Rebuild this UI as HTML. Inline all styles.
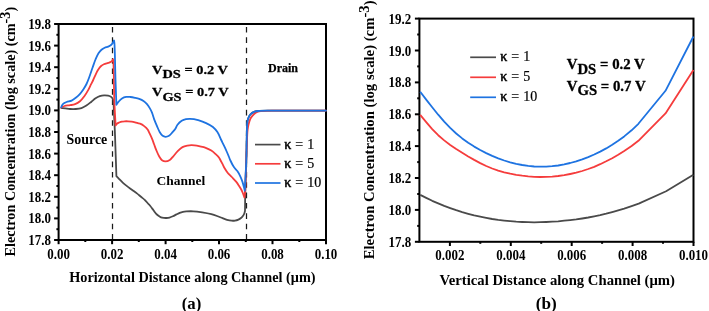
<!DOCTYPE html>
<html><head><meta charset="utf-8"><style>
html,body{margin:0;padding:0;background:#fff;}
body{width:709px;height:311px;overflow:hidden;}
svg{display:block;filter:blur(0.3px);}
text{fill:#000;}
</style></head><body>
<svg width="709" height="311" viewBox="0 0 709 311">
<rect x="58.6" y="24.0" width="267.4" height="216.0" fill="none" stroke="#000" stroke-width="2"/>
<line x1="54.1" y1="240.0" x2="58.6" y2="240.0" stroke="#000" stroke-width="2"/>
<text transform="translate(51.0,245.0) scale(0.94,1)" font-family="Liberation Serif" font-weight="bold" font-size="13.8" text-anchor="end">17.8</text>
<line x1="56.4" y1="229.2" x2="58.6" y2="229.2" stroke="#000" stroke-width="2"/>
<line x1="54.1" y1="218.4" x2="58.6" y2="218.4" stroke="#000" stroke-width="2"/>
<text transform="translate(51.0,223.4) scale(0.94,1)" font-family="Liberation Serif" font-weight="bold" font-size="13.8" text-anchor="end">18.0</text>
<line x1="56.4" y1="207.6" x2="58.6" y2="207.6" stroke="#000" stroke-width="2"/>
<line x1="54.1" y1="196.8" x2="58.6" y2="196.8" stroke="#000" stroke-width="2"/>
<text transform="translate(51.0,201.8) scale(0.94,1)" font-family="Liberation Serif" font-weight="bold" font-size="13.8" text-anchor="end">18.2</text>
<line x1="56.4" y1="186.0" x2="58.6" y2="186.0" stroke="#000" stroke-width="2"/>
<line x1="54.1" y1="175.2" x2="58.6" y2="175.2" stroke="#000" stroke-width="2"/>
<text transform="translate(51.0,180.2) scale(0.94,1)" font-family="Liberation Serif" font-weight="bold" font-size="13.8" text-anchor="end">18.4</text>
<line x1="56.4" y1="164.4" x2="58.6" y2="164.4" stroke="#000" stroke-width="2"/>
<line x1="54.1" y1="153.6" x2="58.6" y2="153.6" stroke="#000" stroke-width="2"/>
<text transform="translate(51.0,158.6) scale(0.94,1)" font-family="Liberation Serif" font-weight="bold" font-size="13.8" text-anchor="end">18.6</text>
<line x1="56.4" y1="142.8" x2="58.6" y2="142.8" stroke="#000" stroke-width="2"/>
<line x1="54.1" y1="132.0" x2="58.6" y2="132.0" stroke="#000" stroke-width="2"/>
<text transform="translate(51.0,137.0) scale(0.94,1)" font-family="Liberation Serif" font-weight="bold" font-size="13.8" text-anchor="end">18.8</text>
<line x1="56.4" y1="121.2" x2="58.6" y2="121.2" stroke="#000" stroke-width="2"/>
<line x1="54.1" y1="110.4" x2="58.6" y2="110.4" stroke="#000" stroke-width="2"/>
<text transform="translate(51.0,115.4) scale(0.94,1)" font-family="Liberation Serif" font-weight="bold" font-size="13.8" text-anchor="end">19.0</text>
<line x1="56.4" y1="99.6" x2="58.6" y2="99.6" stroke="#000" stroke-width="2"/>
<line x1="54.1" y1="88.8" x2="58.6" y2="88.8" stroke="#000" stroke-width="2"/>
<text transform="translate(51.0,93.8) scale(0.94,1)" font-family="Liberation Serif" font-weight="bold" font-size="13.8" text-anchor="end">19.2</text>
<line x1="56.4" y1="78.0" x2="58.6" y2="78.0" stroke="#000" stroke-width="2"/>
<line x1="54.1" y1="67.2" x2="58.6" y2="67.2" stroke="#000" stroke-width="2"/>
<text transform="translate(51.0,72.2) scale(0.94,1)" font-family="Liberation Serif" font-weight="bold" font-size="13.8" text-anchor="end">19.4</text>
<line x1="56.4" y1="56.4" x2="58.6" y2="56.4" stroke="#000" stroke-width="2"/>
<line x1="54.1" y1="45.6" x2="58.6" y2="45.6" stroke="#000" stroke-width="2"/>
<text transform="translate(51.0,50.6) scale(0.94,1)" font-family="Liberation Serif" font-weight="bold" font-size="13.8" text-anchor="end">19.6</text>
<line x1="56.4" y1="34.8" x2="58.6" y2="34.8" stroke="#000" stroke-width="2"/>
<line x1="54.1" y1="24.0" x2="58.6" y2="24.0" stroke="#000" stroke-width="2"/>
<text transform="translate(51.0,29.0) scale(0.94,1)" font-family="Liberation Serif" font-weight="bold" font-size="13.8" text-anchor="end">19.8</text>
<line x1="58.6" y1="240.0" x2="58.6" y2="244.2" stroke="#000" stroke-width="2"/>
<text transform="translate(58.6,258.6) scale(0.94,1)" font-family="Liberation Serif" font-weight="bold" font-size="13.8" text-anchor="middle">0.00</text>
<line x1="85.3" y1="240.0" x2="85.3" y2="242.0" stroke="#000" stroke-width="2"/>
<line x1="112.1" y1="240.0" x2="112.1" y2="244.2" stroke="#000" stroke-width="2"/>
<text transform="translate(112.1,258.6) scale(0.94,1)" font-family="Liberation Serif" font-weight="bold" font-size="13.8" text-anchor="middle">0.02</text>
<line x1="138.8" y1="240.0" x2="138.8" y2="242.0" stroke="#000" stroke-width="2"/>
<line x1="165.6" y1="240.0" x2="165.6" y2="244.2" stroke="#000" stroke-width="2"/>
<text transform="translate(165.6,258.6) scale(0.94,1)" font-family="Liberation Serif" font-weight="bold" font-size="13.8" text-anchor="middle">0.04</text>
<line x1="192.3" y1="240.0" x2="192.3" y2="242.0" stroke="#000" stroke-width="2"/>
<line x1="219.0" y1="240.0" x2="219.0" y2="244.2" stroke="#000" stroke-width="2"/>
<text transform="translate(219.0,258.6) scale(0.94,1)" font-family="Liberation Serif" font-weight="bold" font-size="13.8" text-anchor="middle">0.06</text>
<line x1="245.8" y1="240.0" x2="245.8" y2="242.0" stroke="#000" stroke-width="2"/>
<line x1="272.5" y1="240.0" x2="272.5" y2="244.2" stroke="#000" stroke-width="2"/>
<text transform="translate(272.5,258.6) scale(0.94,1)" font-family="Liberation Serif" font-weight="bold" font-size="13.8" text-anchor="middle">0.08</text>
<line x1="299.3" y1="240.0" x2="299.3" y2="242.0" stroke="#000" stroke-width="2"/>
<line x1="326.0" y1="240.0" x2="326.0" y2="244.2" stroke="#000" stroke-width="2"/>
<text transform="translate(326.0,258.6) scale(0.94,1)" font-family="Liberation Serif" font-weight="bold" font-size="13.8" text-anchor="middle">0.10</text>
<line x1="112.5" y1="27.0" x2="112.5" y2="239" stroke="#1a1a1a" stroke-width="1.25" stroke-dasharray="5.6 4.75"/>
<line x1="246.5" y1="27.0" x2="246.5" y2="239" stroke="#1a1a1a" stroke-width="1.25" stroke-dasharray="5.6 4.75"/>
<path d="M61.30,108.00 C62.60,108.13 63.83,108.25 65.20,108.40 C66.74,108.57 68.40,108.90 70.10,109.00 C71.92,109.11 73.91,109.15 75.80,109.00 C77.71,108.85 79.71,108.68 81.50,108.10 C83.24,107.53 84.81,106.62 86.40,105.60 C88.11,104.51 89.82,102.98 91.40,101.70 C92.87,100.51 94.14,99.15 95.60,98.20 C96.95,97.32 98.36,96.58 99.80,96.10 C101.19,95.63 102.69,95.38 104.10,95.30 C105.45,95.23 106.95,95.35 108.10,95.60 C109.02,95.80 109.80,96.08 110.50,96.50 C111.16,96.89 111.73,97.40 112.20,98.00 C112.71,98.65 113.00,99.53 113.40,100.30 L113.40,100.30 C113.53,102.87 113.64,104.65 113.80,108.00 C114.10,114.27 114.61,125.05 115.00,135.00 C115.48,147.29 115.93,162.47 116.40,176.20 L116.40,176.20 C117.33,177.17 118.21,178.09 119.20,179.10 C120.30,180.22 121.44,181.46 122.70,182.60 C124.03,183.80 125.50,184.94 127.00,186.10 C128.57,187.31 130.26,188.49 131.90,189.70 C133.56,190.92 135.33,192.17 136.90,193.40 C138.35,194.54 139.67,195.71 141.00,196.80 C142.26,197.83 143.54,198.70 144.70,199.80 C145.88,200.93 147.00,202.39 148.00,203.50 C148.83,204.42 149.50,205.03 150.30,206.00 C151.31,207.22 152.50,208.96 153.50,210.30 C154.38,211.47 155.12,212.65 156.00,213.60 C156.79,214.45 157.64,215.17 158.50,215.80 C159.31,216.39 160.11,216.95 161.00,217.30 C161.88,217.65 162.87,217.78 163.80,217.90 C164.70,218.01 165.58,218.04 166.50,218.00 C167.48,217.95 168.48,217.86 169.50,217.60 C170.61,217.32 171.77,216.81 172.90,216.30 C174.10,215.76 175.33,215.00 176.50,214.40 C177.59,213.84 178.61,213.24 179.70,212.80 C180.77,212.37 181.88,212.03 183.00,211.80 C184.11,211.57 185.07,211.49 186.40,211.40 C188.28,211.28 190.78,211.17 193.20,211.30 C195.99,211.45 199.20,211.92 202.20,212.40 C205.23,212.88 208.64,213.52 211.30,214.20 C213.44,214.75 215.12,215.33 217.00,216.00 C218.89,216.67 220.84,217.54 222.60,218.20 C224.15,218.79 225.50,219.38 227.00,219.80 C228.50,220.22 230.18,220.58 231.60,220.70 C232.81,220.80 233.88,220.78 235.00,220.60 C236.15,220.42 237.37,220.06 238.40,219.60 C239.36,219.17 240.24,218.62 241.00,218.00 C241.73,217.41 242.35,216.74 242.90,216.00 C243.46,215.24 243.95,214.35 244.30,213.50 C244.64,212.69 244.77,211.83 245.00,211.00 L245.00,211.00 C245.10,204.00 245.12,197.62 245.30,190.00 C245.52,180.89 246.04,169.44 246.30,160.00 C246.53,151.55 246.62,142.63 246.80,136.00 C246.93,131.31 246.90,127.13 247.20,124.00 C247.40,121.97 247.48,120.58 248.00,119.00 C248.52,117.42 249.21,115.71 250.30,114.50 C251.40,113.28 253.04,112.30 254.60,111.70 C256.17,111.10 257.70,111.09 259.70,110.90 C262.53,110.64 265.19,110.67 270.00,110.60 C281.20,110.44 307.33,110.60 326.00,110.60" fill="none" stroke="#4a4a4a" stroke-width="1.8" stroke-linejoin="round" stroke-linecap="round"/>
<path d="M61.30,107.70 C62.37,107.13 63.24,106.41 64.50,106.00 C66.07,105.49 68.29,105.53 70.10,105.20 C71.82,104.89 73.49,104.73 75.10,104.10 C76.80,103.43 78.49,102.46 80.00,101.20 C81.65,99.82 83.13,97.86 84.50,96.00 C85.90,94.10 87.17,91.93 88.30,89.90 C89.36,87.99 90.23,85.95 91.10,84.20 C91.85,82.69 92.45,81.57 93.20,80.00 C94.13,78.06 95.26,75.30 96.20,73.40 C96.94,71.92 97.49,70.73 98.30,69.50 C99.12,68.26 100.09,66.91 101.10,66.00 C101.97,65.21 102.83,64.71 103.90,64.20 C105.15,63.61 106.92,63.24 108.20,62.80 C109.24,62.45 110.28,62.26 111.00,61.80 C111.57,61.44 111.95,60.95 112.30,60.50 C112.60,60.11 112.77,59.70 113.00,59.30 L113.00,59.30 C113.13,60.20 113.28,60.57 113.40,62.00 C113.86,67.33 113.87,88.59 114.30,100.00 C114.65,109.35 115.17,117.00 115.60,125.50 L115.60,125.50 C116.13,124.83 116.57,124.01 117.20,123.50 C117.79,123.03 118.46,122.80 119.20,122.50 C120.04,122.16 121.06,121.80 122.00,121.60 C122.92,121.40 123.83,121.35 124.80,121.30 C125.83,121.24 126.90,121.25 128.00,121.30 C129.17,121.35 130.42,121.43 131.60,121.60 C132.75,121.77 133.87,122.02 135.00,122.30 C136.14,122.58 137.48,123.05 138.40,123.30 C139.03,123.47 139.36,123.44 140.00,123.70 C141.09,124.14 142.91,125.12 144.20,126.10 C145.52,127.11 146.94,128.49 147.80,129.70 C148.48,130.66 148.66,131.46 149.20,132.60 C149.98,134.24 151.17,136.61 152.00,138.60 C152.79,140.51 153.39,142.38 154.10,144.30 C154.82,146.25 155.48,148.23 156.30,150.20 C157.14,152.23 158.06,154.54 159.10,156.30 C159.99,157.80 160.83,159.37 162.00,160.20 C163.01,160.92 164.27,161.31 165.50,161.30 C166.86,161.29 168.53,160.69 169.80,159.90 C171.14,159.06 172.10,157.61 173.30,156.30 C174.66,154.81 175.98,152.93 177.50,151.40 C179.04,149.86 180.73,148.07 182.50,147.10 C184.06,146.24 185.83,145.91 187.40,145.60 C188.79,145.32 190.15,145.22 191.40,145.20 C192.50,145.18 193.32,145.26 194.50,145.40 C196.08,145.59 198.16,146.01 200.00,146.40 C201.89,146.80 203.85,147.12 205.70,147.80 C207.62,148.50 209.61,149.51 211.30,150.60 C212.89,151.63 214.27,152.88 215.60,154.10 C216.86,155.26 218.23,156.51 219.10,157.70 C219.79,158.64 220.06,159.50 220.60,160.50 C221.22,161.65 221.92,162.92 222.60,164.20 C223.32,165.58 223.98,167.10 224.80,168.50 C225.64,169.93 226.50,171.34 227.60,172.70 C228.80,174.18 230.40,175.53 231.80,177.00 C233.23,178.50 234.85,180.03 236.10,181.60 C237.25,183.04 238.18,184.56 239.10,186.00 C239.97,187.35 240.83,188.69 241.50,190.00 C242.11,191.18 242.53,192.29 243.00,193.50 C243.50,194.78 243.93,196.17 244.40,197.50 L244.40,197.50 C244.67,195.20 244.98,193.52 245.20,190.60 C245.58,185.57 245.65,177.20 245.90,170.00 C246.18,162.07 246.48,152.27 246.80,145.00 C247.05,139.36 247.17,133.82 247.60,130.00 C247.87,127.61 248.12,126.11 248.60,124.20 C249.08,122.27 249.71,120.03 250.50,118.50 C251.11,117.32 251.80,116.50 252.60,115.60 C253.43,114.67 254.34,113.70 255.40,113.00 C256.47,112.29 257.61,111.77 259.00,111.40 C260.71,110.95 262.74,110.94 265.00,110.80 C267.91,110.63 270.38,110.65 275.00,110.60 C285.43,110.50 309.00,110.60 326.00,110.60" fill="none" stroke="#f53c3c" stroke-width="1.8" stroke-linejoin="round" stroke-linecap="round"/>
<path d="M61.30,107.20 C61.53,106.63 61.71,106.05 62.00,105.50 C62.30,104.92 62.54,104.31 63.10,103.80 C63.88,103.09 65.30,102.51 66.60,102.00 C68.09,101.41 70.06,101.31 71.60,100.60 C73.12,99.90 74.47,98.84 75.80,97.80 C77.14,96.75 78.39,95.62 79.60,94.30 C80.91,92.87 82.16,91.19 83.30,89.50 C84.47,87.76 85.52,86.01 86.50,84.00 C87.61,81.73 88.52,79.13 89.50,76.50 C90.56,73.65 91.57,70.41 92.60,67.50 C93.57,64.75 94.46,61.97 95.50,59.50 C96.44,57.28 97.38,55.01 98.50,53.30 C99.42,51.90 100.41,50.74 101.50,49.80 C102.49,48.95 103.58,48.33 104.70,47.80 C105.81,47.27 107.12,47.09 108.20,46.60 C109.21,46.14 110.24,45.65 111.00,45.00 C111.67,44.42 112.11,43.73 112.60,43.00 C113.12,42.23 113.53,41.33 114.00,40.50 L114.00,40.50 C114.13,41.33 114.27,41.67 114.40,43.00 C114.88,48.08 115.13,68.90 115.50,80.00 C115.80,89.09 116.10,96.53 116.40,104.80 L116.40,104.80 C117.13,103.77 117.73,102.71 118.60,101.70 C119.57,100.57 120.71,99.20 122.00,98.40 C123.25,97.62 124.78,97.13 126.20,96.90 C127.58,96.68 128.97,96.86 130.40,97.00 C131.90,97.15 133.51,97.48 135.00,97.80 C136.44,98.11 137.82,98.39 139.20,98.90 C140.65,99.44 142.20,100.11 143.50,101.00 C144.80,101.88 145.95,102.99 147.00,104.20 C148.09,105.45 149.06,106.96 149.90,108.40 C150.72,109.80 151.35,111.10 152.00,112.70 C152.77,114.60 153.30,116.93 154.10,119.10 C154.95,121.40 156.02,123.86 157.00,126.10 C157.92,128.21 158.76,130.48 159.80,132.20 C160.66,133.62 161.53,135.04 162.60,135.80 C163.48,136.43 164.48,136.77 165.50,136.80 C166.61,136.83 167.91,136.45 169.00,135.80 C170.28,135.04 171.41,133.41 172.50,132.20 C173.54,131.05 174.57,129.95 175.40,128.70 C176.23,127.45 176.54,125.95 177.50,124.70 C178.58,123.29 180.20,121.75 181.70,120.80 C183.05,119.95 184.57,119.43 186.00,119.10 C187.33,118.79 188.67,118.78 190.00,118.80 C191.33,118.82 192.66,118.97 194.00,119.20 C195.39,119.43 196.60,119.72 198.20,120.20 C200.44,120.87 203.61,121.94 206.10,123.10 C208.50,124.22 210.97,125.43 212.90,127.00 C214.69,128.46 216.08,130.11 217.40,132.10 C218.90,134.36 220.03,137.58 221.20,140.00 C222.20,142.06 223.07,143.75 224.00,145.70 C224.97,147.74 226.05,150.07 226.90,152.00 C227.61,153.62 228.20,155.04 228.80,156.50 C229.36,157.87 229.71,159.02 230.40,160.50 C231.30,162.45 232.61,165.21 233.90,167.10 C235.01,168.73 236.44,169.78 237.50,171.30 C238.58,172.84 239.48,174.58 240.30,176.30 C241.12,178.01 241.80,179.81 242.40,181.60 C243.00,183.38 243.48,185.35 243.90,187.00 C244.25,188.37 244.50,189.53 244.80,190.80 L244.80,190.80 C244.97,187.60 245.11,185.03 245.30,181.20 C245.58,175.52 246.05,167.29 246.30,160.00 C246.56,152.25 246.62,142.63 246.80,136.00 C246.93,131.31 246.90,127.13 247.20,124.00 C247.40,121.97 247.48,120.58 248.00,119.00 C248.52,117.42 249.21,115.71 250.30,114.50 C251.40,113.28 253.04,112.30 254.60,111.70 C256.17,111.10 257.70,111.09 259.70,110.90 C262.53,110.64 265.19,110.67 270.00,110.60 C281.20,110.44 307.33,110.60 326.00,110.60" fill="none" stroke="#1e73e1" stroke-width="1.8" stroke-linejoin="round" stroke-linecap="round"/>
<text x="66.6" y="143.6" font-family="Liberation Serif" font-weight="bold" font-size="13.9">Source</text>
<text x="156.5" y="184.5" font-family="Liberation Serif" font-weight="bold" font-size="13.5">Channel</text>
<text x="268" y="71.5" font-family="Liberation Serif" font-weight="bold" font-size="12" stroke="#000" stroke-width="0.25">Drain</text>
<text transform="translate(152,73.9) scale(1,0.93)" font-family="Liberation Serif" font-weight="bold" font-size="14.4" stroke="#000" stroke-width="0.3">V<tspan dy="4.6">DS</tspan><tspan dy="-4.6"> = 0.2 V</tspan></text>
<text transform="translate(152,96.4) scale(1,0.93)" font-family="Liberation Serif" font-weight="bold" font-size="14.4" stroke="#000" stroke-width="0.3">V<tspan dy="4.6">GS</tspan><tspan dy="-4.6"> = 0.7 V</tspan></text>
<line x1="255" y1="144.6" x2="280.5" y2="144.6" stroke="#4a4a4a" stroke-width="1.7"/>
<text x="284.2" y="148.6" font-family="Liberation Serif" font-size="14" word-spacing="0.5" stroke="#000" stroke-width="0.2"><tspan stroke-width="0.5">κ</tspan> = 1</text>
<line x1="255" y1="163.8" x2="280.5" y2="163.8" stroke="#f53c3c" stroke-width="1.7"/>
<text x="284.2" y="167.8" font-family="Liberation Serif" font-size="14" word-spacing="0.5" stroke="#000" stroke-width="0.2"><tspan stroke-width="0.5">κ</tspan> = 5</text>
<line x1="255" y1="183.0" x2="280.5" y2="183.0" stroke="#1e73e1" stroke-width="1.7"/>
<text x="284.2" y="187.0" font-family="Liberation Serif" font-size="14" word-spacing="0.5" stroke="#000" stroke-width="0.2"><tspan stroke-width="0.5">κ</tspan> = 10</text>
<text x="69.2" y="282.0" font-family="Liberation Serif" font-weight="bold" font-size="14.25">Horizontal Distance along Channel (μm)</text>
<text x="191.5" y="308.8" font-family="Liberation Serif" font-weight="bold" font-size="16.8" text-anchor="middle">(a)</text>
<text transform="translate(14.6,256.4) rotate(-90)" font-family="Liberation Serif" font-weight="bold" font-size="14.2">Electron Concentration (log scale) (cm<tspan dy="-4.6">-3</tspan><tspan dy="4.6">)</tspan></text>
<rect x="419.4" y="18.6" width="274.1" height="223.20000000000002" fill="none" stroke="#000" stroke-width="2"/>
<line x1="414.9" y1="241.8" x2="419.4" y2="241.8" stroke="#000" stroke-width="2"/>
<text transform="translate(411.2,246.8) scale(0.94,1)" font-family="Liberation Serif" font-weight="bold" font-size="13.8" text-anchor="end">17.8</text>
<line x1="417.2" y1="225.9" x2="419.4" y2="225.9" stroke="#000" stroke-width="2"/>
<line x1="414.9" y1="209.9" x2="419.4" y2="209.9" stroke="#000" stroke-width="2"/>
<text transform="translate(411.2,214.9) scale(0.94,1)" font-family="Liberation Serif" font-weight="bold" font-size="13.8" text-anchor="end">18.0</text>
<line x1="417.2" y1="194.0" x2="419.4" y2="194.0" stroke="#000" stroke-width="2"/>
<line x1="414.9" y1="178.0" x2="419.4" y2="178.0" stroke="#000" stroke-width="2"/>
<text transform="translate(411.2,183.0) scale(0.94,1)" font-family="Liberation Serif" font-weight="bold" font-size="13.8" text-anchor="end">18.2</text>
<line x1="417.2" y1="162.1" x2="419.4" y2="162.1" stroke="#000" stroke-width="2"/>
<line x1="414.9" y1="146.1" x2="419.4" y2="146.1" stroke="#000" stroke-width="2"/>
<text transform="translate(411.2,151.1) scale(0.94,1)" font-family="Liberation Serif" font-weight="bold" font-size="13.8" text-anchor="end">18.4</text>
<line x1="417.2" y1="130.2" x2="419.4" y2="130.2" stroke="#000" stroke-width="2"/>
<line x1="414.9" y1="114.3" x2="419.4" y2="114.3" stroke="#000" stroke-width="2"/>
<text transform="translate(411.2,119.3) scale(0.94,1)" font-family="Liberation Serif" font-weight="bold" font-size="13.8" text-anchor="end">18.6</text>
<line x1="417.2" y1="98.3" x2="419.4" y2="98.3" stroke="#000" stroke-width="2"/>
<line x1="414.9" y1="82.4" x2="419.4" y2="82.4" stroke="#000" stroke-width="2"/>
<text transform="translate(411.2,87.4) scale(0.94,1)" font-family="Liberation Serif" font-weight="bold" font-size="13.8" text-anchor="end">18.8</text>
<line x1="417.2" y1="66.4" x2="419.4" y2="66.4" stroke="#000" stroke-width="2"/>
<line x1="414.9" y1="50.5" x2="419.4" y2="50.5" stroke="#000" stroke-width="2"/>
<text transform="translate(411.2,55.5) scale(0.94,1)" font-family="Liberation Serif" font-weight="bold" font-size="13.8" text-anchor="end">19.0</text>
<line x1="417.2" y1="34.5" x2="419.4" y2="34.5" stroke="#000" stroke-width="2"/>
<line x1="414.9" y1="18.6" x2="419.4" y2="18.6" stroke="#000" stroke-width="2"/>
<text transform="translate(411.2,23.6) scale(0.94,1)" font-family="Liberation Serif" font-weight="bold" font-size="13.8" text-anchor="end">19.2</text>
<line x1="449.9" y1="241.8" x2="449.9" y2="246.0" stroke="#000" stroke-width="2"/>
<text transform="translate(449.9,260.0) scale(0.94,1)" font-family="Liberation Serif" font-weight="bold" font-size="13.8" text-anchor="middle">0.002</text>
<line x1="480.3" y1="241.8" x2="480.3" y2="243.8" stroke="#000" stroke-width="2"/>
<line x1="510.8" y1="241.8" x2="510.8" y2="246.0" stroke="#000" stroke-width="2"/>
<text transform="translate(510.8,260.0) scale(0.94,1)" font-family="Liberation Serif" font-weight="bold" font-size="13.8" text-anchor="middle">0.004</text>
<line x1="541.2" y1="241.8" x2="541.2" y2="243.8" stroke="#000" stroke-width="2"/>
<line x1="571.7" y1="241.8" x2="571.7" y2="246.0" stroke="#000" stroke-width="2"/>
<text transform="translate(571.7,260.0) scale(0.94,1)" font-family="Liberation Serif" font-weight="bold" font-size="13.8" text-anchor="middle">0.006</text>
<line x1="602.1" y1="241.8" x2="602.1" y2="243.8" stroke="#000" stroke-width="2"/>
<line x1="632.6" y1="241.8" x2="632.6" y2="246.0" stroke="#000" stroke-width="2"/>
<text transform="translate(632.6,260.0) scale(0.94,1)" font-family="Liberation Serif" font-weight="bold" font-size="13.8" text-anchor="middle">0.008</text>
<line x1="663.0" y1="241.8" x2="663.0" y2="243.8" stroke="#000" stroke-width="2"/>
<line x1="693.5" y1="241.8" x2="693.5" y2="246.0" stroke="#000" stroke-width="2"/>
<text transform="translate(693.5,260.0) scale(0.94,1)" font-family="Liberation Serif" font-weight="bold" font-size="13.8" text-anchor="middle">0.010</text>
<path d="M420.2,194.9 L426.2,197.9 L432.2,200.8 L438.2,203.4 L444.2,205.9 L450.2,208.1 L456.2,210.2 L462.2,212.1 L468.2,213.8 L474.2,215.4 L480.2,216.7 L486.2,217.9 L492.2,219.0 L498.2,219.9 L504.2,220.6 L510.2,221.2 L516.2,221.7 L522.2,222.0 L528.2,222.2 L534.2,222.3 L540.2,222.2 L546.2,222.0 L552.2,221.7 L558.2,221.3 L564.2,220.7 L570.2,220.1 L576.2,219.4 L582.2,218.5 L588.2,217.5 L594.2,216.3 L600.2,215.1 L606.2,213.7 L612.2,212.1 L618.2,210.4 L624.2,208.6 L631.6,206.1 L638.7,203.6 L666.1,191.3 L693.4,174.8" fill="none" stroke="#4a4a4a" stroke-width="1.8" stroke-linejoin="round"/>
<path d="M420.2,114.9 L426.2,122.1 L432.2,129.2 L438.2,135.2 L444.2,140.4 L450.2,145.0 L456.2,149.1 L462.2,152.8 L468.2,156.5 L474.2,159.9 L480.2,163.1 L486.2,166.0 L492.2,168.5 L498.2,170.6 L504.2,172.3 L510.2,173.7 L516.2,174.8 L522.2,175.7 L528.2,176.4 L534.2,176.8 L540.2,177.0 L546.2,176.9 L552.2,176.6 L558.2,176.0 L564.2,175.2 L570.2,174.0 L576.2,172.7 L582.2,171.0 L588.2,169.0 L594.2,166.8 L600.2,164.2 L606.2,161.3 L612.2,158.2 L618.2,154.7 L624.2,151.0 L631.6,146.0 L638.4,140.8 L665.5,113.4 L693.4,70.0" fill="none" stroke="#f53c3c" stroke-width="1.8" stroke-linejoin="round"/>
<path d="M420.2,91.8 L426.2,99.6 L432.2,107.3 L438.2,114.7 L444.2,121.7 L450.2,127.9 L456.2,133.5 L462.2,138.4 L468.2,142.8 L474.2,146.6 L480.2,150.0 L486.2,153.1 L492.2,155.9 L498.2,158.3 L504.2,160.5 L510.2,162.3 L516.2,163.8 L522.2,165.0 L528.2,165.9 L534.2,166.5 L540.2,166.7 L546.2,166.6 L552.2,166.2 L558.2,165.5 L564.2,164.4 L570.2,163.0 L576.2,161.4 L582.2,159.4 L588.2,157.1 L594.2,154.5 L600.2,151.6 L606.2,148.4 L612.2,144.8 L618.2,140.8 L624.2,136.4 L631.6,130.3 L638.4,123.8 L665.5,90.8 L693.4,36.5" fill="none" stroke="#1e73e1" stroke-width="1.8" stroke-linejoin="round"/>
<line x1="470.2" y1="57.3" x2="496" y2="57.3" stroke="#4a4a4a" stroke-width="1.7"/>
<text x="500.2" y="61.3" font-family="Liberation Serif" font-size="14" word-spacing="0.6" stroke="#000" stroke-width="0.2"><tspan stroke-width="0.5">κ</tspan> = 1</text>
<line x1="470.2" y1="77.3" x2="496" y2="77.3" stroke="#f53c3c" stroke-width="1.7"/>
<text x="500.2" y="81.3" font-family="Liberation Serif" font-size="14" word-spacing="0.6" stroke="#000" stroke-width="0.2"><tspan stroke-width="0.5">κ</tspan> = 5</text>
<line x1="470.2" y1="97.3" x2="496" y2="97.3" stroke="#1e73e1" stroke-width="1.7"/>
<text x="500.2" y="101.3" font-family="Liberation Serif" font-size="14" word-spacing="0.6" stroke="#000" stroke-width="0.2"><tspan stroke-width="0.5">κ</tspan> = 10</text>
<text transform="translate(566.7,69.2) scale(1,0.94)" font-family="Liberation Serif" font-weight="bold" font-size="14.8" stroke="#000" stroke-width="0.3">V<tspan dy="4.6">DS</tspan><tspan dy="-4.6"> = 0.2 V</tspan></text>
<text transform="translate(566.7,90.9) scale(1,0.94)" font-family="Liberation Serif" font-weight="bold" font-size="14.8" stroke="#000" stroke-width="0.3">V<tspan dy="4.6">GS</tspan><tspan dy="-4.6"> = 0.7 V</tspan></text>
<text x="439.5" y="284.5" font-family="Liberation Serif" font-weight="bold" font-size="14.7">Vertical Distance along Channel (μm)</text>
<text x="546.3" y="308.8" font-family="Liberation Serif" font-weight="bold" font-size="17.2" text-anchor="middle">(b)</text>
<text transform="translate(374.0,259.3) rotate(-90)" font-family="Liberation Serif" font-weight="bold" font-size="14.73">Electron Concentration (log scale) (cm<tspan dy="-4.8">-3</tspan><tspan dy="4.8">)</tspan></text>
</svg>
</body></html>
